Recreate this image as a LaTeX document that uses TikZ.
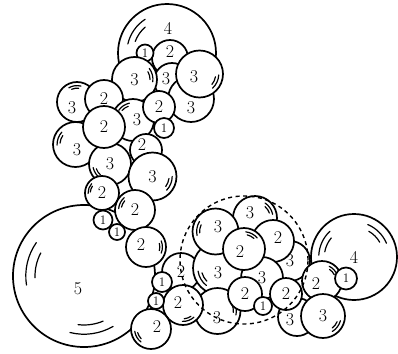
\documentclass[tikz,border=0pt]{standalone}
\usepackage{tikz}

% two short arcs inside a ball: node, radius, angle
\newcommand{\shine}[3]{%
  \draw[gloss] (#1.center) ++({#3-22}:{0.82*#2}) arc[start angle={#3-22}, end angle={#3+22}, radius={0.82*#2}];
  \draw[gloss] (#1.center) ++({#3-15}:{0.69*#2}) arc[start angle={#3-15}, end angle={#3+15}, radius={0.69*#2}];}

\begin{document}
\begin{tikzpicture}[x=1pt, y=-1pt,
  ball/.style={circle, draw, fill=white, line width=1.7pt, inner sep=0pt, outer sep=0pt, font=\fontsize{18}{18}\selectfont},
  tiny/.style={ball, font=\fontsize{13}{13}\selectfont},
  num/.style={inner sep=0pt, font=\fontsize{18}{18}\selectfont},
  gloss/.style={line width=1.2pt, line cap=round}]
\useasboundingbox (0,0) rectangle (398,353);

% big ball on the left
\node[ball, minimum size=142pt] (b5) at (84,276) {};
\node[num] (b5n) at (78,289) {5};
\shine{b5}{71}{193}
\shine{b5}{71}{82}

% top group
\node[ball, minimum size=98pt] (t4) at (167,53) {};
\node[num] (t4n) at (168,28) {4};
\shine{t4}{49}{215}
\node[ball, minimum size=36pt] (t2) at (170,58) {};
\node[num] (t2n) at (170,52) {2};
\node[tiny, minimum size=17pt] (t1) at (145,53) {1};
\node[ball, minimum size=36pt] (t3m) at (172,81) {};
\node[num] (t3mn) at (166,79) {3};
\node[ball, minimum size=46pt] (t3l) at (191,99) {};
\node[num] (t3ln) at (191,108) {3};
\node[ball, minimum size=47pt] (t3b) at (199.5,74) {};
\node[num] (t3bn) at (194,77) {3};
\shine{t3b}{23.5}{25}
\node[ball, minimum size=45pt] (t3a) at (134.5,79.5) {3};
\shine{t3a}{22.5}{345}

% left column
\node[ball, minimum size=40pt] (c3a) at (77,102) {};
\node[num] (c3an) at (72,108) {3};
\shine{c3a}{20}{262}
\node[ball, minimum size=38pt] (c2a) at (104,99) {2};
\node[ball, minimum size=42pt] (c3c) at (133,120) {};
\node[num] (c3cn) at (137,120) {3};
\shine{c3c}{21}{236}
\node[ball, minimum size=32pt] (t2b) at (159,107) {2};
\node[tiny, minimum size=20pt] (t1b) at (164,128) {1};
\node[ball, minimum size=45pt] (c3d) at (75.5,144.5) {};
\node[num] (c3dn) at (77,150) {3};
\shine{c3d}{22.5}{200}
\node[ball, minimum size=42pt] (c3e) at (110,164) {3};
\shine{c3e}{21}{146}
\node[ball, minimum size=42pt] (c2b) at (104,127) {2};
\node[ball, minimum size=32pt] (c2c) at (146,150) {};
\node[num] (c2cn) at (142,145) {2};
\node[ball, minimum size=48pt] (c3f) at (152.5,176.5) {3};
\shine{c3f}{24}{22}
\node[ball, minimum size=34pt] (c2d) at (102,193) {2};
\shine{c2d}{17}{200}
\node[ball, minimum size=40pt] (c2e) at (135,210) {2};
\shine{c2e}{20}{207}
\node[tiny, minimum size=19pt] (c1a) at (103,220) {1};
\node[tiny, minimum size=16pt] (c1b) at (117,232) {1};
\node[ball, minimum size=40pt] (c2f) at (146,247) {};
\node[num] (c2fn) at (141,245) {2};
\shine{c2f}{20}{0}

% bridge to the cluster
\node[ball, minimum size=38pt] (g2a) at (181,272) {2};
\node[tiny, minimum size=20pt] (g1a) at (162,282) {1};

% cluster inside the shell
\node[ball, minimum size=44pt] (k3t) at (255,218) {};
\node[num] (k3tn) at (250,213) {3};
\shine{k3t}{22}{326}
\node[ball, minimum size=40pt] (k3r) at (290,261) {3};
\node[ball, minimum size=42pt] (k2r) at (273,241) {};
\node[num] (k2rn) at (278,238) {2};
\node[ball, minimum size=54pt] (k3c) at (220,268) {};
\node[num] (k3cn) at (218,273) {3};
\shine{k3c}{27}{150}
\node[ball, minimum size=42pt] (k3s) at (262,278) {3};
\shine{k3s}{21}{35}
\node[ball, minimum size=46pt] (k3u) at (215.5,231.5) {};
\node[num] (k3un) at (218,227) {3};
\shine{k3u}{23}{190}
\node[ball, minimum size=42pt] (k2c) at (244,249) {};
\node[num] (k2cn) at (240,252) {2};
\shine{k2c}{21}{298}
\node[ball, minimum size=46pt] (k3b) at (217.5,311) {};
\node[num] (k3bn) at (217,318) {3};
\shine{k3b}{23}{350}
\node[ball, minimum size=34pt] (k2b) at (245,294) {2};
\node[tiny, minimum size=18pt] (k1) at (263,306) {1};
\node[ball, minimum size=40pt] (g2b) at (183,305) {};
\node[num] (g2bn) at (178,303) {2};
\shine{g2b}{20}{70}
\node[tiny, minimum size=16pt] (g1b) at (156,301) {1};
\node[ball, minimum size=40pt] (g2c) at (151,329) {};
\node[num] (g2cn) at (157,327) {2};
\shine{g2c}{20}{150}
\node[ball, minimum size=38pt] (k3e) at (297,317) {};
\node[num] (k3en) at (290,320) {3};
\node[ball, minimum size=32pt] (k2d) at (286,294) {2};

% right group
\node[ball, minimum size=86pt] (r4) at (354,257) {4};
\shine{r4}{43}{205}
\shine{r4}{43}{315}
\node[ball, minimum size=40pt] (r2) at (322,281) {};
\node[num] (r2n) at (316,284) {2};
\shine{r2}{20}{318}
\node[ball, minimum size=44pt] (r3) at (323,316) {3};
\shine{r3}{22}{37}
\node[tiny, minimum size=22pt] (r1) at (346,278.5) {1};

% dashed shell
\node[circle, draw, line width=1.4pt, dash pattern=on 4pt off 3.5pt, minimum size=128pt, inner sep=0pt] (shell) at (244,260) {};
\end{tikzpicture}
\end{document}
